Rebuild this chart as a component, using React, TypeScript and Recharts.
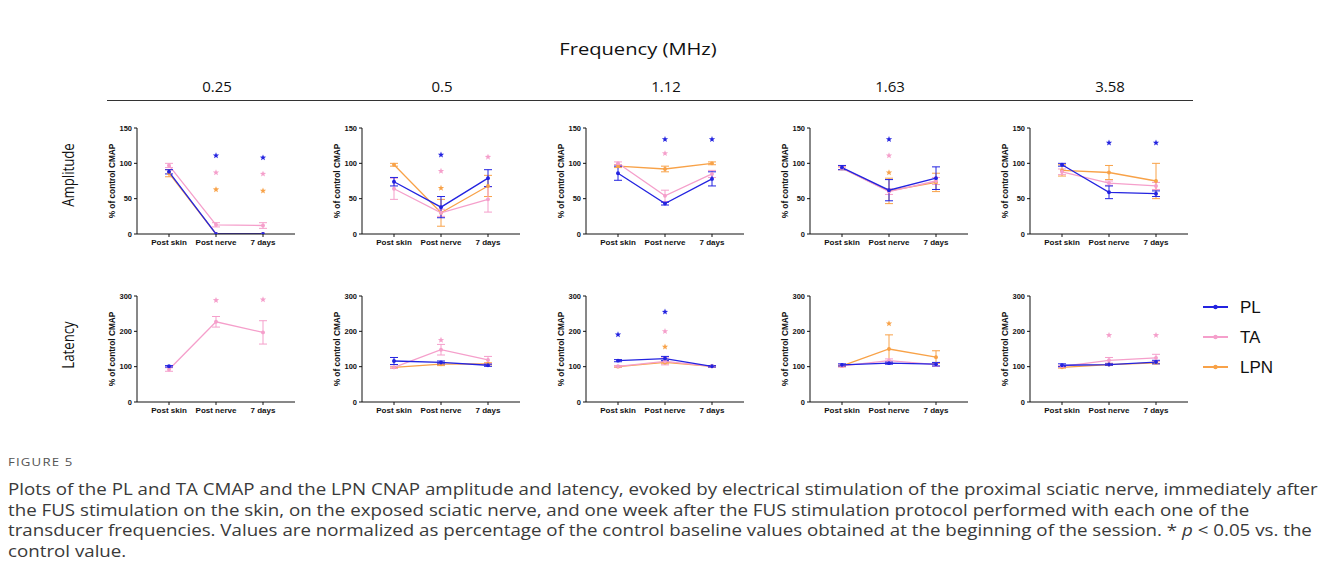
import React from 'react';
import { ComposedChart, Line, XAxis, YAxis, ErrorBar } from 'recharts';

const categories = ['Post skin', 'Post nerve', '7 days'];
const frequencies = ['0.25', '0.5', '1.12', '1.63', '3.58'];
const rowTitles = ['Amplitude', 'Latency'];
const seriesNames = ['PL', 'TA', 'LPN'];

// Amplitude (% of control CMAP), one row per frequency
const ampPL = [[88, 0, 0], [74, 38, 79], [86, 43, 78], [94, 62, 79], [98, 59, 57]];
const ampPLErr = [[3, 0, 0], [6, 15, 12], [10, 2, 10], [3, 15, 16], [2, 9, 4]];
const ampTA = [[97, 13, 12], [64, 30, 49], [100, 54, 85], [93, 60, 75], [88, 72, 68]];
const ampTAErr = [[3, 3, 4], [15, 5, 18], [2, 8, 5], [2, 4, 5], [4, 3, 5]];
const ampLPN = [[86, 0, 0], [98, 30, 68], [96, 92, 100], [93, 61, 73], [90, 87, 75]];
const ampLPNErr = [[5, 0, 0], [2, 19, 15], [2, 4, 2], [2, 18, 13], [8, 10, 25]];
const ampStarPL = [[null, 111, 108], [null, 112, null], [null, 134, 134], [null, 134, null], [null, 129, 129]];
const ampStarTA = [[null, 87, 85], [null, 89, 109], [null, 114, null], [null, 111, null], [null, null, null]];
const ampStarLPN = [[null, 63, 61], [null, 65, null], [null, null, null], [null, 87, null], [null, null, null]];

// Latency (% of control)
const latPL = [[101, null, null], [116, 112, 104], [117, 123, 101], [105, 110, 107], [104, 106, 113]];
const latPLErr = [[2, 0, 0], [10, 4, 3], [3, 6, 2], [3, 3, 5], [4, 2, 5]];
const latTA = [[92, 227, 197], [98, 148, 119], [101, 115, 101], [102, 117, 106], [101, 118, 125]];
const latTAErr = [[5, 15, 33], [3, 15, 10], [2, 10, 2], [3, 5, 5], [2, 8, 10]];
const latLPN = [[null, null, null], [98, 107, 108], [100, 112, 101], [102, 150, 127], [98, 106, 111]];
const latLPNErr = [[0, 0, 0], [2, 4, 3], [2, 4, 2], [2, 40, 18], [2, 2, 3]];
const latStarPL = [[null, null, null], [null, null, null], [191, 255, null], [null, null, null], [null, null, null]];
const latStarTA = [[null, 288, 290], [null, 175, null], [null, 200, null], [null, null, null], [null, 189, 189]];
const latStarLPN = [[null, null, null], [null, null, null], [null, 156, null], [null, 222, null], [null, null, null]];

const ampTicks = [0, 50, 100, 150];
const latTicks = [0, 100, 200, 300];

const COLORS = { PL: '#2323e0', TA: '#f59fcb', LPN: '#f8a248' };
const axisXs = [137, 362, 586, 810, 1030];
const plotTops = [128, 296];

const captionLines = [
  'Plots of the PL and TA CMAP and the LPN CNAP amplitude and latency, evoked by electrical stimulation of the proximal sciatic nerve, immediately after',
  'the FUS stimulation on the skin, on the exposed sciatic nerve, and one week after the FUS stimulation protocol performed with each one of the',
  'transducer frequencies. Values are normalized as percentage of the control baseline values obtained at the beginning of the session. * ',
];

const starPath = (cx: number, cy: number, R: number, r: number) => {
  let d = '';
  for (let i = 0; i < 10; i++) {
    const rad = i % 2 === 0 ? R : r;
    const a = -Math.PI / 2 + (i * Math.PI) / 5;
    d += (i === 0 ? 'M' : 'L') + (cx + rad * Math.cos(a)).toFixed(2) + ',' + (cy + rad * Math.sin(a)).toFixed(2);
  }
  return d + 'Z';
};

const makeStarDot = (color: string) => (props: any) => {
  const { cx, cy, value, index } = props;
  if (value == null || cx == null || cy == null || !isFinite(cx) || !isFinite(cy)) {
    return <g key={'s' + index} />;
  }
  return <path key={'s' + index} d={starPath(cx, cy, 3.3, 1.4)} fill={color} stroke="none" />;
};

const FONT = '"Liberation Sans", Arial, sans-serif';

function Panel({ row, col }: { row: number; col: number }) {
  const isAmp = row === 0;
  const pl = isAmp ? ampPL : latPL;
  const plE = isAmp ? ampPLErr : latPLErr;
  const ta = isAmp ? ampTA : latTA;
  const taE = isAmp ? ampTAErr : latTAErr;
  const lpn = isAmp ? ampLPN : latLPN;
  const lpnE = isAmp ? ampLPNErr : latLPNErr;
  const sPL = isAmp ? ampStarPL : latStarPL;
  const sTA = isAmp ? ampStarTA : latStarTA;
  const sLPN = isAmp ? ampStarLPN : latStarLPN;
  const ticks = isAmp ? ampTicks : latTicks;

  const data = categories.map((cat, i) => ({
    cat,
    pl: pl[col][i],
    plErr: pl[col][i] == null ? 0 : plE[col][i],
    ta: ta[col][i],
    taErr: ta[col][i] == null ? 0 : taE[col][i],
    lpn: lpn[col][i],
    lpnErr: lpn[col][i] == null ? 0 : lpnE[col][i],
    sPL: sPL[col][i],
    sTA: sTA[col][i],
    sLPN: sLPN[col][i],
  }));

  const tickStyle = { fontSize: 7.5, fontWeight: 700, fill: '#111', fontFamily: FONT };

  return (
    <div style={{ position: 'absolute', left: axisXs[col] - 45, top: plotTops[row] - 10 }}>
      <ComposedChart width={213} height={140} data={data} margin={{ top: 10, right: 10, left: 0, bottom: 2 }}>
        <XAxis
          dataKey="cat"
          padding={{ left: 32, right: 32 }}
          height={22}
          tickSize={3}
          tick={{ ...tickStyle, fontSize: 8 }}
          axisLine={{ stroke: '#111', strokeWidth: 1 }}
          tickLine={{ stroke: '#111', strokeWidth: 1 }}
          interval={0}
        />
        <YAxis
          domain={[ticks[0], ticks[3]]}
          ticks={ticks}
          width={45}
          tickSize={3}
          tick={tickStyle}
          axisLine={{ stroke: '#111', strokeWidth: 1 }}
          tickLine={{ stroke: '#111', strokeWidth: 1 }}
          allowDataOverflow
          label={{
            content: (p: any) => {
              const vb = p.viewBox || { x: 0, y: 0, width: 45, height: 106 };
              const x = vb.x + vb.width - 25;
              const y = vb.y + vb.height / 2;
              return (
                <text
                  x={x}
                  y={y}
                  transform={`rotate(-90, ${x}, ${y})`}
                  textAnchor="middle"
                  dominantBaseline="central"
                  style={{ fontSize: 8.3, fontWeight: 700, fill: '#111', fontFamily: FONT }}
                >
                  % of control CMAP
                </text>
              );
            },
          }}
        />
        <Line dataKey="lpn" stroke={COLORS.LPN} strokeWidth={1.3} dot={{ r: 1.3, fill: COLORS.LPN, stroke: COLORS.LPN }} activeDot={false} isAnimationActive={false}>
          <ErrorBar dataKey="lpnErr" width={4} stroke={COLORS.LPN} strokeWidth={1} />
        </Line>
        <Line dataKey="ta" stroke={COLORS.TA} strokeWidth={1.3} dot={{ r: 1.3, fill: COLORS.TA, stroke: COLORS.TA }} activeDot={false} isAnimationActive={false}>
          <ErrorBar dataKey="taErr" width={4} stroke={COLORS.TA} strokeWidth={1} />
        </Line>
        <Line dataKey="pl" stroke={COLORS.PL} strokeWidth={1.3} dot={{ r: 1.3, fill: COLORS.PL, stroke: COLORS.PL }} activeDot={false} isAnimationActive={false}>
          <ErrorBar dataKey="plErr" width={4} stroke={COLORS.PL} strokeWidth={1} />
        </Line>
        <Line dataKey="sPL" stroke="none" dot={makeStarDot(COLORS.PL)} activeDot={false} isAnimationActive={false} />
        <Line dataKey="sTA" stroke="none" dot={makeStarDot(COLORS.TA)} activeDot={false} isAnimationActive={false} />
        <Line dataKey="sLPN" stroke="none" dot={makeStarDot(COLORS.LPN)} activeDot={false} isAnimationActive={false} />
      </ComposedChart>
    </div>
  );
}

export default function App() {
  const headFont = '"Open Sans", sans-serif';
  return (
    <div style={{ position: 'relative', width: 1328, height: 579, margin: -8, background: '#fff', overflow: 'hidden' }}>
      <div style={{ position: 'absolute', left: 0, top: 0, width: 1326, height: 440, borderTop: '1px solid #cfcfcf', borderLeft: '1px solid #cfcfcf', borderRight: '1px solid #cfcfcf' }} />
      <div style={{ position: 'absolute', left: 0, width: 1276, top: 37, textAlign: 'center', fontFamily: headFont, fontSize: 16.5, color: '#111', transform: 'scaleX(1.22)', transformOrigin: '638px 0' }}>
        Frequency (MHz)
      </div>
      {frequencies.map((f, i) => (
        <div key={f} style={{ position: 'absolute', left: axisXs[i] + 80 - 60, width: 120, top: 76, textAlign: 'center', fontFamily: headFont, fontSize: 15, color: '#111' }}>
          {f}
        </div>
      ))}
      <div style={{ position: 'absolute', left: 107, top: 100, width: 1086, height: 0, borderTop: '1.5px solid #333' }} />
      {rowTitles.map((t, r) => (
        <div
          key={t}
          style={{
            position: 'absolute',
            left: 68 - 60,
            width: 120,
            top: (r === 0 ? 175 : 345) - 12,
            height: 24,
            lineHeight: '24px',
            textAlign: 'center',
            transform: 'scaleX(1.2) rotate(-90deg)',
            fontFamily: headFont,
            fontSize: 13.2,
            color: '#111',
          }}
        >
          {t}
        </div>
      ))}
      {[0, 1].map((r) => frequencies.map((f, c) => <Panel key={r + '-' + c} row={r} col={c} />))}
      <svg style={{ position: 'absolute', left: 1195, top: 290 }} width={110} height={95}>
        {seriesNames.map((s, i) => {
          const color = (COLORS as any)[s];
          const y = 17 + i * 30;
          return (
            <g key={s}>
              <line x1={8} x2={33} y1={y} y2={y} stroke={color} strokeWidth={2} />
              <circle cx={20.5} cy={y} r={2.2} fill={color} />
              <text x={45} y={y} dominantBaseline="central" style={{ fontSize: 17, fontFamily: FONT, fill: '#111' }}>
                {s}
              </text>
            </g>
          );
        })}
      </svg>
      <div style={{ position: 'absolute', left: 8, top: 454, fontFamily: '"Open Sans", sans-serif', fontSize: 11.5, letterSpacing: 1, color: '#555', transform: 'scaleX(1.15)', transformOrigin: '0 0' }}>
        FIGURE 5
      </div>
      <div style={{ position: 'absolute', left: 8, top: 479, fontFamily: '"Open Sans", sans-serif', fontSize: 15.8, lineHeight: '20.5px', color: '#3a3a3a', whiteSpace: 'nowrap', transform: 'scaleX(1.185)', transformOrigin: '0 0' }}>
        <div>{captionLines[0]}</div>
        <div>{captionLines[1]}</div>
        <div>
          {captionLines[2]}
          <i>p</i>
          {' < 0.05 vs. the'}
        </div>
        <div>control value.</div>
      </div>
    </div>
  );
}
